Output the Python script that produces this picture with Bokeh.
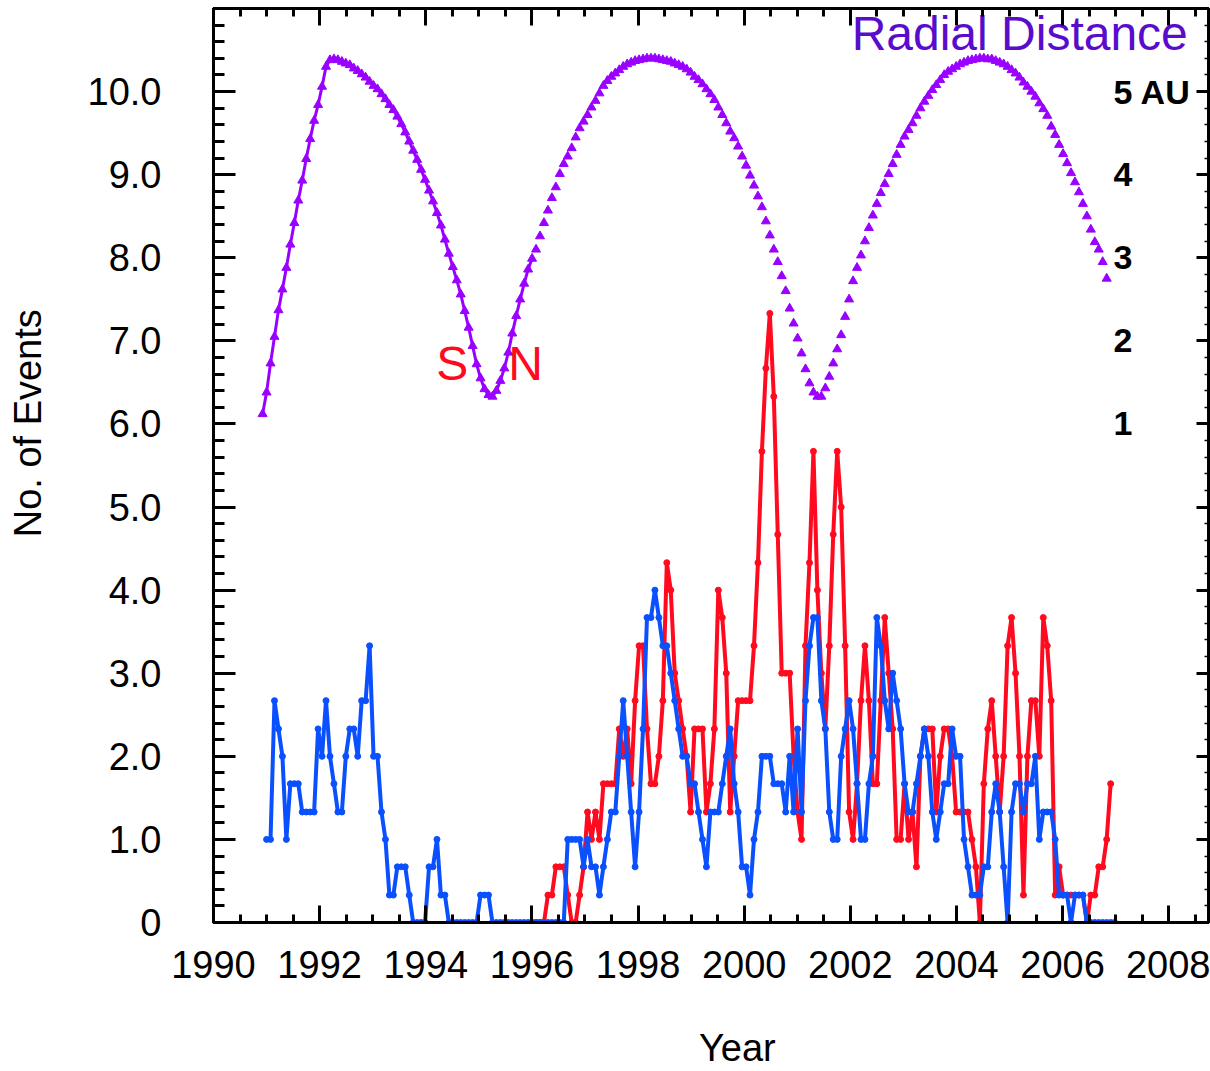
import numpy as np
from bokeh.plotting import figure
from bokeh.models import Range1d, LinearAxis, FixedTicker, CustomJSTickFormatter
from bokeh.core.properties import value
from bokeh.embed import file_html
from bokeh.resources import INLINE

# ---------------- data ----------------
STEP = 27.2753 / 365.25          # one solar rotation, in years
blue_start = 1991.0
red_start = 1991.0 + 67 * STEP
radial_start = 1991.0 - STEP
radial_line_count = 69           # first samples joined by a line

events_blue = [
    1.0, 1.0, 2.67, 2.33, 2.0, 1.0, 1.67, 1.67, 1.67, 1.33,
    1.33, 1.33, 1.33, 2.33, 2.0, 2.67, 2.0, 1.67, 1.33, 1.33,
    2.0, 2.33, 2.33, 2.0, 2.67, 2.67, 3.33, 2.0, 2.0, 1.33,
    1.0, 0.33, 0.33, 0.67, 0.67, 0.67, 0.33, 0, 0, 0,
    0, 0.67, 0.67, 1.0, 0.33, 0.33, 0, 0, 0, 0,
    0, 0, 0, 0, 0.33, 0.33, 0.33, 0, 0, 0,
    0, 0, 0, 0, 0, 0, 0, 0, 0, 0,
    0, 0, 0, 0, 0, 0, 1.0, 1.0, 1.0, 1.0,
    0.67, 1.0, 0.67, 0.67, 0.33, 0.67, 1.0, 1.33, 1.33, 2.0,
    2.67, 2.0, 1.33, 0.67, 1.33, 2.33, 3.67, 3.67, 4.0, 3.67,
    3.33, 3.33, 3.0, 2.67, 2.33, 2.0, 2.0, 1.67, 1.67, 1.33,
    1.0, 0.67, 1.33, 1.33, 1.33, 1.67, 2.0, 2.33, 1.67, 1.33,
    0.67, 0.67, 0.33, 1.0, 1.33, 2.0, 2.0, 2.0, 1.67, 1.67,
    1.67, 1.33, 2.0, 1.33, 2.33, 1.33, 2.67, 3.33, 3.67, 3.67,
    2.67, 2.33, 1.33, 1.0, 1.0, 2.0, 2.33, 2.67, 2.33, 1.67,
    1.0, 1.0, 1.67, 2.0, 3.67, 3.33, 2.67, 2.33, 3.0, 2.67,
    2.33, 1.67, 1.33, 1.33, 1.67, 2.0, 2.33, 2.0, 1.33, 1.0,
    1.33, 1.67, 1.67, 2.33, 2.0, 2.0, 1.0, 0.67, 0.33, 0.33,
    0.33, 0.67, 0.67, 1.33, 1.67, 1.33, 0.67, 0, 1.33, 1.67,
    1.67, 1.33, 1.67, 1.67, 2.0, 1.0, 1.33, 1.33, 1.33, 1.0,
    0.33, 0.33, 0.33, 0, 0.33, 0.33, 0.33, 0, 0, 0,
    0, 0, 0, 0, 0,
]

events_red = [
    0, 0, 0,
    0, 0.33, 0.33, 0.67, 0.67, 0.67, 0.33, 0, 0, 0.33,
    0.67, 1.33, 1.0, 1.33, 1.0, 1.67, 1.67, 1.67, 1.67, 2.33,
    2.0, 2.33, 1.67, 2.67, 3.33, 3.33, 2.33, 1.67, 1.67, 2.0,
    2.67, 4.33, 4.0, 3.0, 2.67, 2.33, 2.0, 1.33, 2.33, 2.33,
    2.33, 1.33, 1.67, 2.33, 4.0, 3.67, 3.0, 1.33, 2.0, 2.67,
    2.67, 2.67, 2.67, 3.33, 4.33, 5.67, 6.67, 7.33, 6.33, 4.67,
    3.0, 3.0, 3.0, 2.0, 1.33, 1.0, 3.33, 4.33, 5.67, 4.0,
    3.0, 2.33, 3.33, 4.67, 5.67, 5.0, 3.33, 1.33, 1.0, 1.67,
    2.67, 3.33, 2.67, 1.67, 1.67, 2.67, 3.67, 3.0, 2.33, 1.0,
    1.0, 1.67, 1.0, 1.33, 0.67, 2.0, 2.33, 2.33, 2.33, 1.33,
    2.0, 2.33, 2.33, 2.0, 1.33, 1.33, 1.33, 1.33, 1.0, 0.67,
    0, 1.67, 2.33, 2.67, 2.0, 1.33, 2.0, 3.33, 3.67, 3.0,
    2.0, 0.33, 2.0, 2.67, 2.67, 2.0, 3.67, 3.33, 2.67, 0.33,
    0.67, 0.33, 0.33, 0.33, 0.33, 0.33, 0.33, 0, 0.33, 0.33,
    0.67, 0.67, 1.0, 1.67,
]

radial_au = [
    1.12,
    1.38, 1.73, 2.05, 2.37, 2.62, 2.88, 3.16, 3.42, 3.69, 3.93,
    4.19, 4.43, 4.65, 4.84, 5.06, 5.30, 5.38, 5.39, 5.38, 5.36,
    5.34, 5.32, 5.28, 5.25, 5.21, 5.17, 5.12, 5.07, 5.03, 4.97,
    4.91, 4.84, 4.78, 4.70, 4.61, 4.51, 4.40, 4.29, 4.18, 4.06,
    3.94, 3.81, 3.68, 3.54, 3.39, 3.22, 3.05, 2.89, 2.73, 2.56,
    2.36, 2.16, 1.94, 1.72, 1.55, 1.42, 1.35, 1.33, 1.40, 1.52,
    1.67, 1.86, 2.09, 2.30, 2.50, 2.69, 2.86, 2.99, 3.10, 3.26,
    3.42, 3.57, 3.72, 3.85, 4.01, 4.13, 4.22, 4.32, 4.45, 4.56,
    4.64, 4.72, 4.81, 4.89, 4.98, 5.07, 5.13, 5.18, 5.22, 5.26,
    5.30, 5.33, 5.35, 5.37, 5.38, 5.39, 5.40, 5.40, 5.40, 5.39,
    5.38, 5.37, 5.36, 5.34, 5.32, 5.30, 5.27, 5.23, 5.18, 5.14,
    5.09, 5.03, 4.97, 4.90, 4.81, 4.72, 4.62, 4.52, 4.44, 4.34,
    4.22, 4.11, 3.99, 3.87, 3.74, 3.61, 3.44, 3.27, 3.10, 2.95,
    2.78, 2.60, 2.39, 2.21, 2.03, 1.85, 1.66, 1.49, 1.38, 1.33,
    1.33, 1.43, 1.57, 1.73, 1.90, 2.07, 2.29, 2.50, 2.72, 2.88,
    3.03, 3.20, 3.36, 3.51, 3.65, 3.78, 3.89, 4.01, 4.13, 4.24,
    4.36, 4.46, 4.54, 4.62, 4.71, 4.80, 4.88, 4.95, 5.02, 5.08,
    5.14, 5.20, 5.24, 5.27, 5.30, 5.33, 5.35, 5.37, 5.38, 5.39,
    5.40, 5.40, 5.39, 5.39, 5.37, 5.35, 5.33, 5.30, 5.26, 5.22,
    5.17, 5.11, 5.06, 5.00, 4.94, 4.86, 4.79, 4.71, 4.58, 4.48,
    4.36, 4.25, 4.14, 4.02, 3.91, 3.79, 3.65, 3.50, 3.34, 3.19,
    3.10, 2.95, 2.75,
]

x_major = list(range(1990, 2009, 2))
x_minor = [1990 + 0.5 * i for i in range(38)]
y_major = list(range(0, 11))
y_minor = [0.2 * i for i in range(56)]
y_labels = {0: "0", 1: "1.0", 2: "2.0", 3: "3.0", 4: "4.0", 5: "5.0",
            6: "6.0", 7: "7.0", 8: "8.0", 9: "9.0", 10: "10.0"}
au_ticks = [1, 2, 3, 4, 5]
au_labels = ["1", "2", "3", "4", "5 AU"]
hemi_labels = ["S", "N"]
hemi_x = [1994.50, 1995.88]
hemi_y = [6.73, 6.73]
x_title = "Year"
y_title = "No. of Events"

RED = "#ff0a1e"
BLUE = "#0a50ff"
VIOLET = "#9900ff"
TITLE_VIOLET = "#5a0ccc"
FONT = "Liberation Sans"
NBSP = "\u00a0"

t_blue = [blue_start + STEP * i for i in range(len(events_blue))]
t_red = [red_start + STEP * i for i in range(len(events_red))]
t_rad = [radial_start + STEP * i for i in range(len(radial_au))]

# ---------------- figure ----------------
p = figure(frame_width=995, frame_height=914,
           x_range=Range1d(1990, 2008.75), y_range=Range1d(0, 11),
           output_backend="svg", toolbar_location=None,
           min_border_left=213, min_border_right=2,
           min_border_top=8, min_border_bottom=149,
           background_fill_color="white", border_fill_color="white")
p.extra_y_ranges = {"au": Range1d(-5, 6)}
p.grid.visible = False
p.outline_line_color = "black"
p.outline_line_width = 3
p.outline_line_alpha = 1.0

blank = CustomJSTickFormatter(code="return ''")


def style_axis(ax, tick_in, minor_in, labels=True):
    ax.axis_line_width = 3
    ax.axis_line_color = "black"
    ax.major_tick_in = tick_in
    ax.major_tick_out = 0
    ax.minor_tick_in = minor_in
    ax.minor_tick_out = 0
    ax.major_tick_line_width = 3
    ax.minor_tick_line_width = 3
    ax.major_tick_line_color = "black"
    ax.minor_tick_line_color = "black"
    if not labels:
        ax.formatter = blank
        ax.major_label_standoff = 0
    else:
        ax.major_label_text_font = FONT
        ax.major_label_text_font_size = "38px"
        ax.major_label_text_color = "black"
        ax.axis_label_text_font = FONT
        ax.axis_label_text_font_size = "38px"
        ax.axis_label_text_font_style = "normal"
        ax.axis_label_text_color = "black"


xb = p.xaxis[0]
xb.ticker = FixedTicker(ticks=x_major, minor_ticks=x_minor)
style_axis(xb, 17, 8)
xb.major_label_standoff = 28
# leading no-break spaces move the title right of the frame centre, as in the original
xb.axis_label = NBSP * 5 + x_title
xb.axis_label_standoff = 46

yl = p.yaxis[0]
yl.ticker = FixedTicker(ticks=y_major, minor_ticks=y_minor)
yl.major_label_overrides = {k: v for k, v in y_labels.items()}
style_axis(yl, 22, 11)
yl.major_label_standoff = 52
yl.axis_label = NBSP * 8 + y_title
yl.axis_label_standoff = 36

xt = LinearAxis(ticker=FixedTicker(ticks=x_major, minor_ticks=x_minor))
style_axis(xt, 17, 8, labels=False)
p.add_layout(xt, "above")

yr = LinearAxis(ticker=FixedTicker(ticks=y_major, minor_ticks=y_minor))
style_axis(yr, 12, 4, labels=False)
yr.minor_tick_line_width = 1.5
p.add_layout(yr, "right")

# radial distance
p.line(t_rad[:radial_line_count], radial_au[:radial_line_count],
       y_range_name="au", line_color=VIOLET, line_width=3)
p.scatter(t_rad, radial_au, y_range_name="au", marker="triangle",
          size=9, fill_color=VIOLET, line_color=VIOLET)

# event series
p.line(t_red, events_red, line_color=RED, line_width=4)
p.scatter(t_red, events_red, size=6, fill_color=RED, line_color=RED)
p.line(t_blue, events_blue, line_color=BLUE, line_width=4)
p.scatter(t_blue, events_blue, size=6, fill_color=BLUE, line_color=BLUE)

# annotations
p.text(x=hemi_x, y=hemi_y, text=hemi_labels, text_color=RED,
       text_font=value(FONT), text_font_size=value("48px"),
       text_align="center", text_baseline="middle")
p.text(x=[2006.96] * len(au_ticks), y=au_ticks, text=au_labels,
       y_range_name="au", text_color="black", text_font=value(FONT),
       text_font_style="bold", text_font_size=value("34px"),
       text_align="left", text_baseline="middle")
p.text(x=[2008.36], y=[10.70], text=["Radial Distance"],
       text_color=TITLE_VIOLET, text_font=value(FONT),
       text_font_size=value("48px"), text_align="right",
       text_baseline="middle")

open("out.html", "w").write(file_html(p, INLINE))
